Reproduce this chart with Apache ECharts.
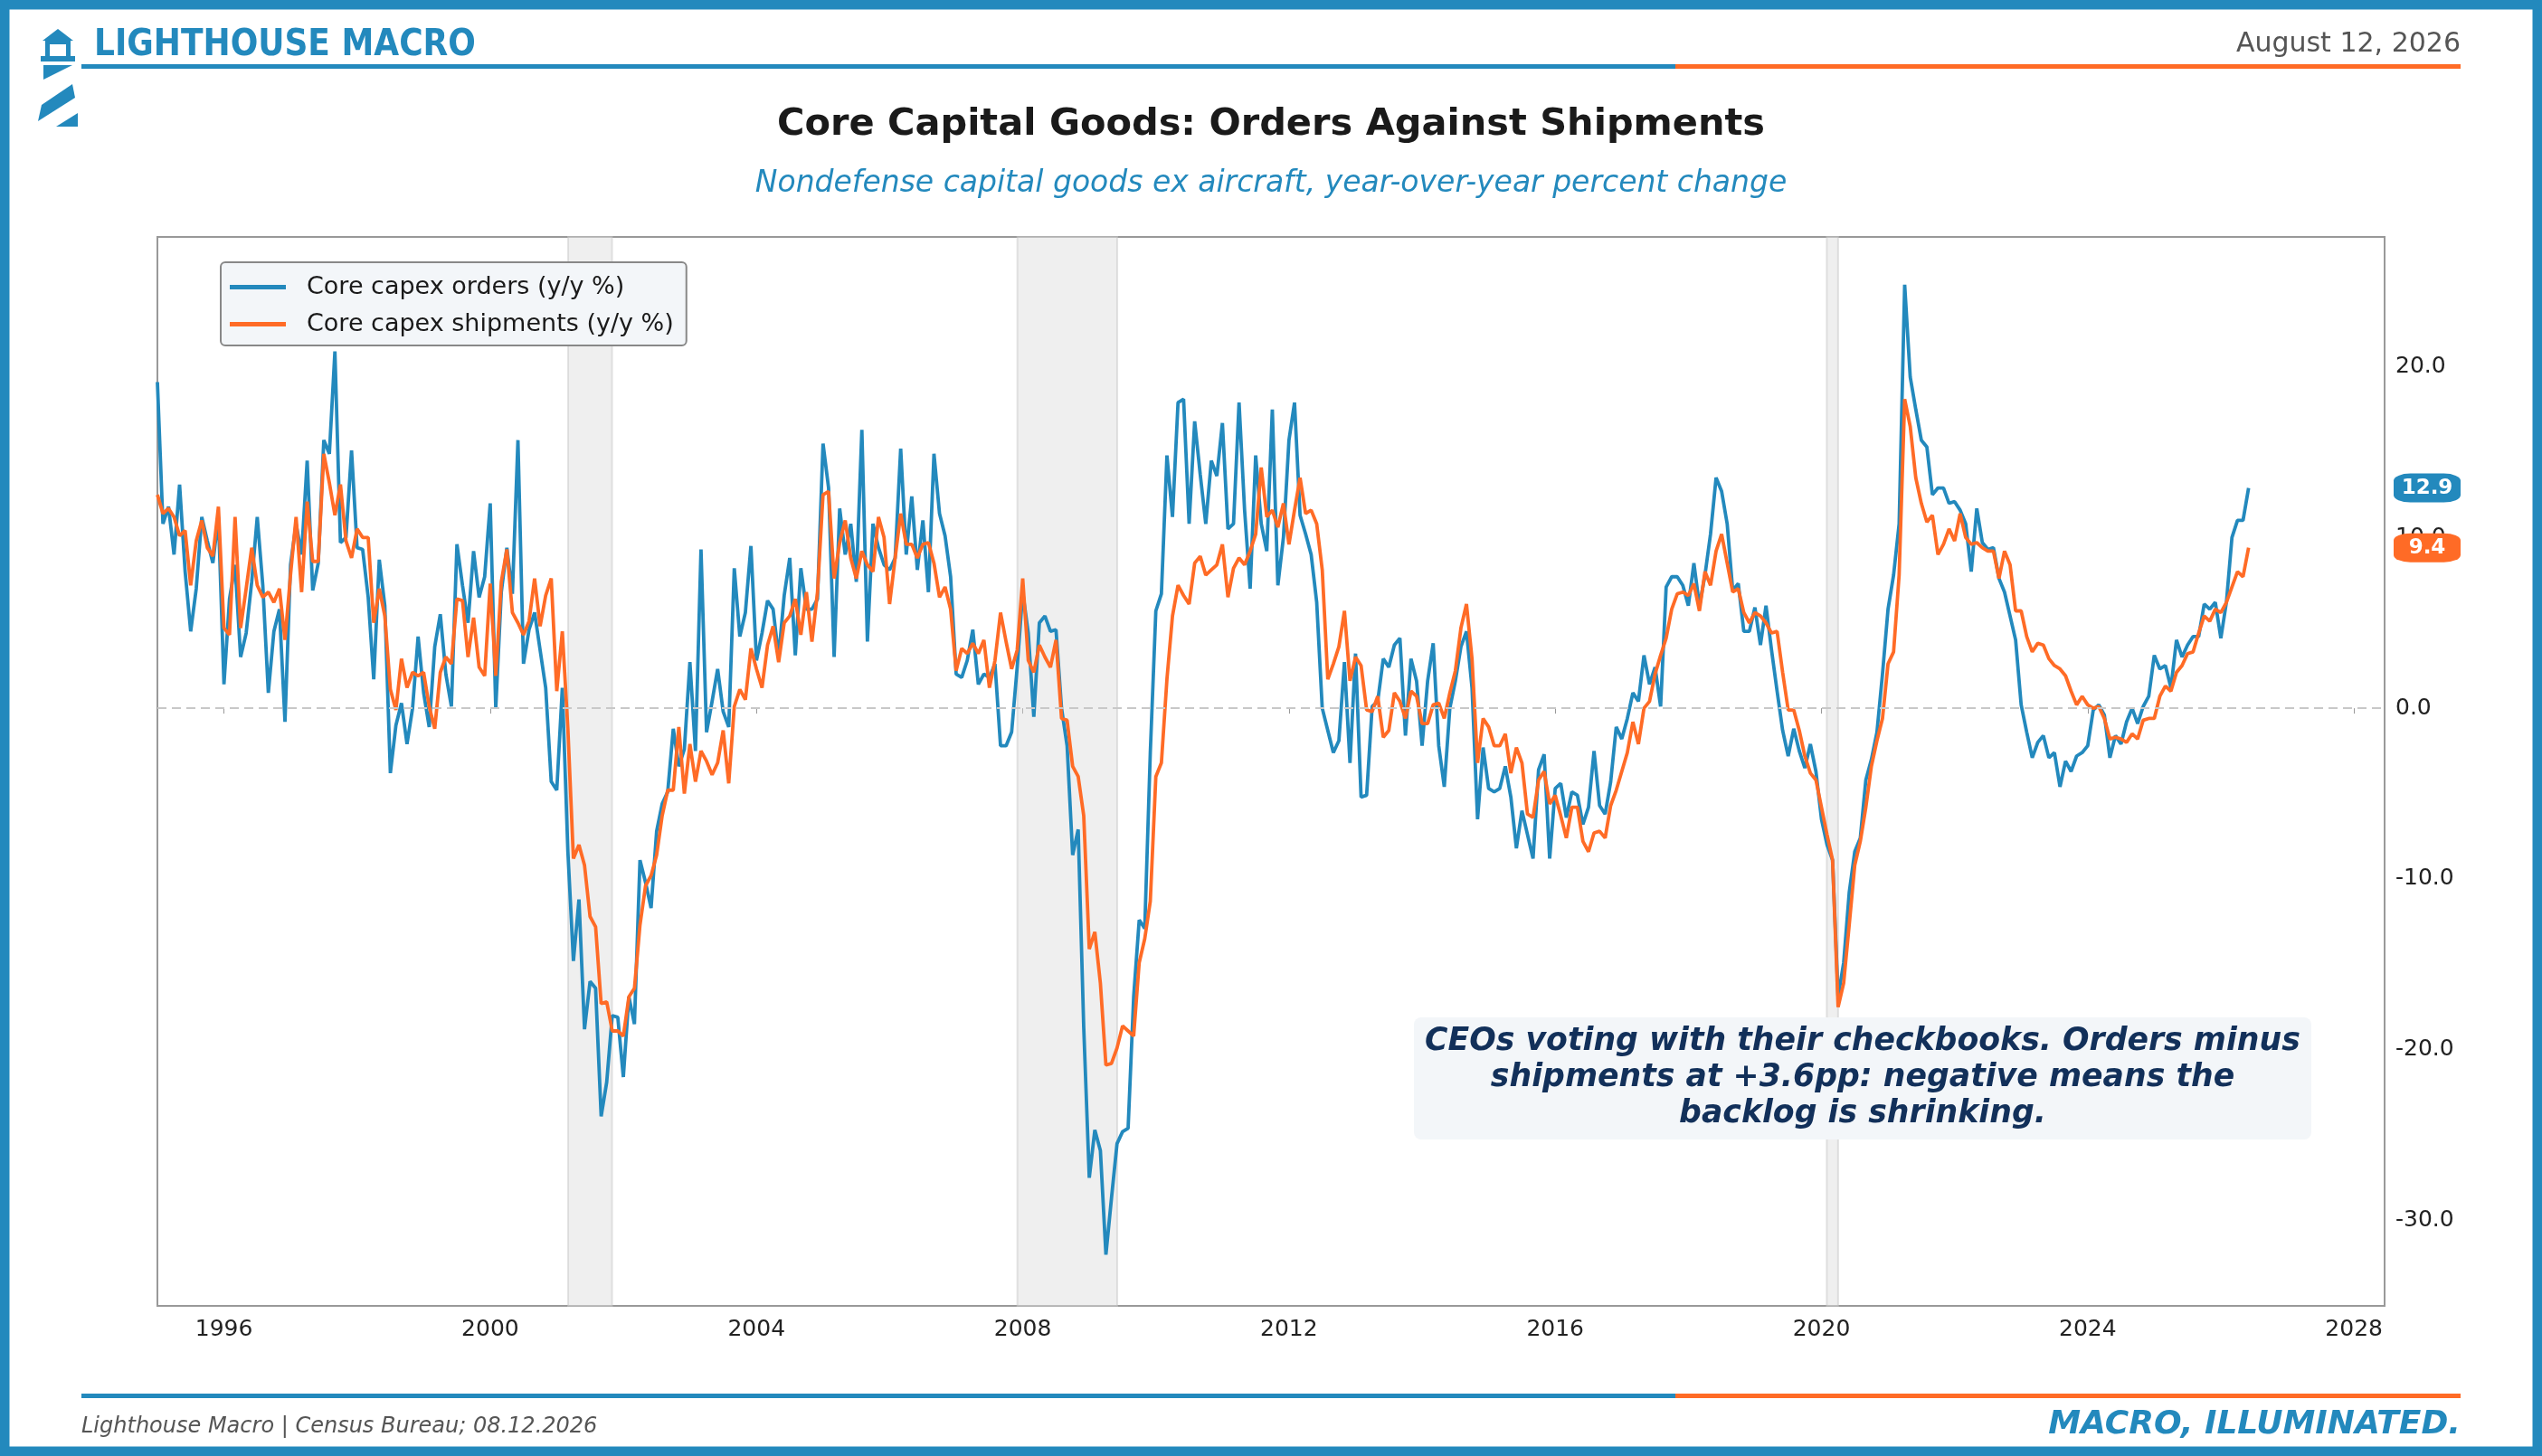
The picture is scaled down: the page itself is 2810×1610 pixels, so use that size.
<!DOCTYPE html>
<html>
<head>
<meta charset="utf-8">
<script src="https://cdn.jsdelivr.net/npm/echarts@6/dist/echarts.min.js"></script>
<style>
  html, body { margin: 0; padding: 0; background: #fff; }
  #chart { width: 2810px; height: 1610px; }
</style>
</head>
<body>
<div id="chart"></div>
<script>
// monthly y/y % change, starting Jan 1995
var startYear = 1995;
var ordersYoY = [
  19.1,10.8,11.8,9.0,13.1,8.0,4.5,7.0,11.2,9.8,8.5,11.2,
  1.4,6.4,8.4,3.0,4.4,7.4,11.2,7.2,0.9,4.5,5.8,-0.8,
  8.4,10.8,9.0,14.5,6.9,8.5,15.7,14.9,20.9,9.7,10.0,15.1,
  9.4,9.3,6.5,1.7,8.7,6.0,-3.8,-1.0,0.3,-2.1,0,4.2,
  0.9,-1.1,3.6,5.5,2.0,0.1,9.6,7.2,5.0,9.2,6.5,7.7,
  12.0,0,6.8,9.4,6.7,15.7,2.6,4.6,5.6,3.4,1.2,-4.3,
  -4.8,1.2,-8.4,-14.8,-11.2,-18.8,-16.0,-16.4,-23.9,-21.9,-18.0,-18.1,
  -21.6,-16.9,-18.5,-8.9,-10.2,-11.7,-7.2,-5.6,-4.9,-1.2,-3.4,-2.4,
  2.7,-2.5,9.3,-1.4,0.4,2.3,-0.2,-1.1,
  8.2,4.2,5.6,9.5,2.8,4.4,6.3,5.8,3.0,6.6,8.8,3.1,8.2,5.8,5.8,6.4,15.5,12.9,3.0,11.7,
  9.0,10.8,7.4,16.3,3.9,10.8,9.4,8.4,8.1,8.8,15.2,9.0,12.4,8.1,11.0,6.8,14.9,11.4,10.1,7.7,
  2.0,1.8,2.8,4.6,1.4,2.0,1.8,2.6,-2.2,-2.2,-1.4,2.4,6.8,4.4,-0.5,5.0,5.4,4.5,4.6,0,
  -2.2,-8.6,-7.1,-18.7,-27.5,-24.7,-25.9,-32.0,-28.7,-25.5,-24.8,-24.6,-16.9,-12.4,-12.9,-2.6,
  5.7,6.7,14.8,11.2,17.9,18.1,10.8,16.8,13.7,10.8,14.5,13.6,16.7,10.5,10.8,17.9,11.6,7.0,
  14.8,10.8,9.2,17.5,7.2,10.0,15.7,17.9,
  11.3,10.2,9.0,6.2,0,-1.3,-2.6,-1.9,2.7,-3.2,3.2,-5.2,-5.1,0.1,0.4,2.9,2.4,3.7,4.1,-1.6,
  2.9,1.6,-2.2,1.6,3.8,-2.2,-4.6,0,1.6,3.6,4.5,1.2,-6.5,-2.3,-4.7,-4.9,-4.7,-3.4,-5.2,-8.2,
  -6.0,-7.4,-8.8,-3.6,-2.7,-8.8,-4.7,-4.4,-6.4,-4.9,-5.1,-6.8,-5.8,-2.5,-5.7,-6.2,-4.3,-1.1,
  -1.8,-0.6,0.9,0.4,3.1,1.4,2.4,0.1,7.1,7.7,7.7,7.2,6.0,8.5,6.0,7.8,10.2,13.5,12.7,10.8,
  6.9,7.3,4.5,4.5,5.9,3.7,6.0,3.4,1.0,-1.3,-2.8,-1.2,-2.5,-3.5,-2.1,-3.7,-6.5,-8.0,-8.9,
  -16.9,-14.9,-10.8,-8.4,-7.6,-4.2,-3.0,-1.4,2.0,5.8,7.8,10.8,24.8,19.4,17.5,15.7,15.3,12.5,
  12.9,12.9,12.0,12.1,11.6,10.8,8.0,11.7,9.7,9.3,9.4,7.6,6.8,5.4,4.0,0.2,-1.4,-2.9,-2.0,-1.6,
  -2.9,-2.6,-4.6,-3.1,-3.7,-2.8,-2.6,-2.2,-0.1,0.2,-0.4,-2.9,-1.6,-2.1,-0.8,0,-0.9,0.1,0.7,
  3.1,2.3,2.5,1.2,4.0,3.0,3.7,4.2,4.2,6.1,5.8,6.2,4.1,6.2,10.0,11.0,11.0,12.9
];
var shipmentsYoY = [
  12.5,11.4,11.7,11.2,10.1,10.4,7.2,9.8,11.0,9.4,8.9,11.8,
  4.7,4.3,11.2,4.7,7.0,9.4,7.2,6.5,6.8,6.2,7.0,4.0,
  7.8,11.2,6.8,12.1,8.6,8.6,14.9,13.2,11.3,13.1,9.8,8.8,
  10.5,10.0,10.0,5.0,7.0,5.4,1.1,-0.1,2.9,1.2,2.1,1.9,
  2.1,0.1,-1.2,2.1,3.0,2.6,6.4,6.3,3.0,5.3,2.4,1.9,
  7.3,1.9,7.4,9.3,5.6,5.0,4.3,5.1,7.6,4.8,6.6,7.6,
  1.0,4.5,-1.2,-8.8,-8.0,-9.2,-12.2,-12.8,-17.3,-17.2,-18.9,-18.9,
  -19.2,-16.9,-16.4,-12.7,-10.4,-9.8,-8.6,-6.3,-4.8,-4.8,-1.1,-5.0,
  -2.1,-4.3,-2.5,-3.1,-3.9,-3.2,-1.3,-4.4,
  0.1,1.1,0.5,3.5,2.3,1.2,3.7,4.8,2.7,5.0,5.4,6.4,4.3,6.8,3.9,6.8,12.5,12.7,7.6,9.7,
  11.0,8.8,7.6,9.2,8.4,8.0,11.2,10.0,6.1,8.8,11.4,9.6,9.6,8.8,9.6,9.7,8.5,6.5,7.1,5.8,
  2.2,3.5,3.2,3.8,3.2,4.0,1.2,2.8,5.6,3.9,2.3,3.4,7.6,2.8,2.1,3.7,3.0,2.4,4.0,-0.6,
  -0.7,-3.4,-4.0,-6.3,-14.1,-13.1,-16.1,-20.9,-20.8,-19.9,-18.6,-18.9,-19.2,-14.9,-13.5,-11.3,
  -4.0,-3.2,1.7,5.4,7.2,6.6,6.1,8.5,8.9,7.8,8.1,8.4,9.6,6.5,8.2,8.8,8.4,9.2,
  10.2,14.1,11.2,11.6,10.6,12.0,9.6,11.6,
  13.5,11.4,11.6,10.8,8.1,1.7,2.6,3.6,5.7,1.6,3.0,2.5,-0.1,-0.2,0.7,-1.7,-1.3,0.9,0.4,-0.6,
  1.0,0.7,-0.9,-0.9,0.2,0.3,-0.6,0.9,2.2,4.7,6.1,2.9,-3.2,-0.6,-1.1,-2.2,-2.2,-1.5,-3.8,-2.3,
  -3.2,-6.2,-6.4,-4.2,-3.7,-5.6,-5.1,-6.3,-7.6,-5.8,-5.8,-7.8,-8.4,-7.3,-7.2,-7.6,-5.7,-4.8,
  -3.7,-2.6,-0.8,-2.1,0,0.4,2.0,3.1,4.1,5.8,6.7,6.8,6.6,7.3,5.7,8.0,7.2,9.2,10.2,8.5,
  6.8,7.0,5.6,5.0,5.6,5.4,5.0,4.4,4.5,2.1,-0.1,-0.1,-1.3,-2.8,-3.8,-4.2,-5.8,-7.4,-8.9,
  -17.5,-16.1,-12.7,-9.2,-7.8,-5.8,-3.4,-1.9,-0.6,2.6,3.3,7.8,18.1,16.5,13.5,12.0,10.9,11.3,
  9.0,9.6,10.5,9.8,11.4,10.0,9.6,9.7,9.4,9.2,9.2,7.6,9.2,8.4,5.7,5.7,4.2,3.3,3.8,3.7,
  2.9,2.5,2.3,1.9,1.0,0.2,0.7,0.2,0,0.1,-0.6,-1.8,-1.7,-1.8,-2.0,-1.5,-1.8,-0.7,-0.6,-0.6,
  0.7,1.3,1.0,2.1,2.5,3.2,3.3,4.4,5.4,5.1,5.8,5.6,6.2,7.1,8.0,7.7,9.4
];
// NBER recessions as fractional years [start, end]
var recessions = [[2001.17, 2001.83], [2007.92, 2009.42], [2020.08, 2020.25]];
var xTicks = [1996, 2000, 2004, 2008, 2012, 2016, 2020, 2024, 2028];
var yTicks = [-30, -20, -10, 0, 10, 20];

var BLUE = '#2389bd', ORANGE = '#ff6b26', NAVY = '#12305a';
var FONT = 'DejaVu Sans';
var X_MIN = 1995.0, X_MAX = 2028.46;

function toPairs(vals) {
  return vals.map(function (v, i) { return [startYear + i / 12, v]; });
}
var orders = toPairs(ordersYoY);
var shipments = toPairs(shipmentsYoY);

function endBadge(data, color) {
  var last = data[data.length - 1];
  return {
    silent: true,
    symbol: 'roundRect',
    symbolSize: [74, 32],
    symbolOffset: [47, 0],
    itemStyle: { color: color },
    label: { show: true, color: '#fff', fontWeight: 'bold', fontSize: 23, fontFamily: FONT,
      formatter: function () { return last[1].toFixed(1); } },
    data: [{ coord: [X_MAX, last[1]] }]
  };
}

var chart = echarts.init(document.getElementById('chart'));
var option = {
  backgroundColor: '#fff',
  animation: false,
  textStyle: { fontFamily: FONT },
  title: [
    { text: 'Core Capital Goods: Orders Against Shipments', left: 'center', top: 112,
      textStyle: { fontSize: 41.5, fontWeight: 'bold', color: '#1a1a1a', fontFamily: FONT } },
    { text: 'Nondefense capital goods ex aircraft, year-over-year percent change', left: 'center', top: 182,
      textStyle: { fontSize: 33, fontStyle: 'italic', fontWeight: 'normal', color: BLUE, fontFamily: FONT } }
  ],
  legend: {
    orient: 'vertical', left: 244, top: 290,
    padding: [14, 14, 10, 10], itemGap: 14,
    backgroundColor: '#f3f6f9', borderColor: '#888', borderWidth: 2, borderRadius: 5,
    itemWidth: 62, itemHeight: 5, icon: 'rect',
    textStyle: { fontSize: 27, color: '#1a1a1a', fontFamily: FONT, padding: [0, 0, 0, 18] },
    data: ['Core capex orders (y/y %)', 'Core capex shipments (y/y %)']
  },
  grid: { left: 174, right: 174, top: 262, bottom: 166, show: true, borderColor: '#999', borderWidth: 2 },
  xAxis: {
    type: 'value', min: X_MIN, max: X_MAX,
    splitLine: { show: false },
    axisLine: { show: false },
    axisTick: { show: true, customValues: xTicks, length: 6, lineStyle: { color: '#999' } },
    axisLabel: { customValues: xTicks, fontSize: 25, color: '#222', margin: 14, fontFamily: FONT,
      formatter: function (v) { return String(v); } }
  },
  yAxis: {
    type: 'value', position: 'right', min: -35, max: 27.6,
    splitLine: { show: false },
    axisLine: { show: false },
    axisTick: { show: false, customValues: yTicks },
    axisLabel: { customValues: yTicks, fontSize: 25, color: '#222', margin: 12, fontFamily: FONT,
      formatter: function (v) { return v.toFixed(1); } }
  },
  series: [
    {
      name: 'Core capex orders (y/y %)', type: 'line', data: orders, showSymbol: false,
      lineStyle: { color: BLUE, width: 3.8 }, itemStyle: { color: BLUE }, z: 3,
      markArea: {
        silent: true,
        itemStyle: { color: 'rgba(215,215,215,0.4)', borderColor: 'rgba(200,200,200,0.5)', borderWidth: 2 },
        data: recessions.map(function (r) { return [{ xAxis: r[0] }, { xAxis: r[1] }]; })
      },
      markLine: {
        silent: true, symbol: 'none', label: { show: false },
        lineStyle: { color: '#c8c8c8', type: [10, 6], width: 2 },
        data: [{ yAxis: 0 }]
      },
      markPoint: endBadge(orders, BLUE)
    },
    {
      name: 'Core capex shipments (y/y %)', type: 'line', data: shipments, showSymbol: false,
      lineStyle: { color: ORANGE, width: 3.8 }, itemStyle: { color: ORANGE }, z: 4,
      markPoint: endBadge(shipments, ORANGE)
    }
  ],
  graphic: [
    // outer frame
    { type: 'rect', shape: { x: 5, y: 5, width: 2800, height: 1600 }, style: { fill: 'none', stroke: BLUE, lineWidth: 11 } },
    // header rule
    { type: 'rect', shape: { x: 90, y: 71, width: 1762, height: 5 }, style: { fill: BLUE } },
    { type: 'rect', shape: { x: 1852, y: 71, width: 868, height: 5 }, style: { fill: ORANGE } },
    // footer rule
    { type: 'rect', shape: { x: 90, y: 1541, width: 1762, height: 5 }, style: { fill: BLUE } },
    { type: 'rect', shape: { x: 1852, y: 1541, width: 868, height: 5 }, style: { fill: ORANGE } },
    // lighthouse mark
    { type: 'polygon', shape: { points: [[47, 45], [64, 32], [81, 45]] }, style: { fill: BLUE } },
    { type: 'rect', shape: { x: 50, y: 45, width: 28, height: 4 }, style: { fill: BLUE } },
    { type: 'rect', shape: { x: 50, y: 49, width: 5, height: 13 }, style: { fill: BLUE } },
    { type: 'rect', shape: { x: 73, y: 49, width: 5, height: 13 }, style: { fill: BLUE } },
    { type: 'rect', shape: { x: 45, y: 62, width: 38, height: 6 }, style: { fill: BLUE } },
    { type: 'polygon', shape: { points: [[48, 72], [80, 72], [48, 88]] }, style: { fill: BLUE } },
    { type: 'polygon', shape: { points: [[80, 93], [83, 108], [42, 134], [46, 116]] }, style: { fill: BLUE } },
    { type: 'polygon', shape: { points: [[62, 140], [86, 125], [86, 140]] }, style: { fill: BLUE } },
    // header / footer text
    { type: 'text', left: 104, top: 31, style: { text: 'LIGHTHOUSE MACRO', fill: BLUE, fontSize: 40, fontWeight: 'bold', fontFamily: 'DejaVu Sans Condensed' } },
    { type: 'text', right: 90, top: 34, style: { text: 'August 12, 2026', fill: '#555', fontSize: 30, fontFamily: FONT } },
    { type: 'text', left: 90, top: 1566, style: { text: 'Lighthouse Macro | Census Bureau; 08.12.2026', fill: '#555', fontSize: 24, fontStyle: 'italic', fontFamily: FONT } },
    { type: 'text', right: 90, top: 1558, style: { text: 'MACRO, ILLUMINATED.', fill: BLUE, fontSize: 36, fontStyle: 'italic', fontWeight: 'bold', fontFamily: FONT } },
    // annotation
    { type: 'rect', shape: { x: 1563, y: 1125, width: 992, height: 135, r: 8 }, style: { fill: '#f3f6f9' }, z: 10 },
    { type: 'text', x: 2059, y: 1192, z: 11,
      style: { text: 'CEOs voting with their checkbooks. Orders minus\nshipments at +3.6pp: negative means the\nbacklog is shrinking.',
        fill: NAVY, fontSize: 34.7, fontWeight: 'bold', fontStyle: 'italic', fontFamily: FONT,
        align: 'center', verticalAlign: 'middle', lineHeight: 40 } }
  ]
};
chart.setOption(option);
</script>
</body>
</html>
